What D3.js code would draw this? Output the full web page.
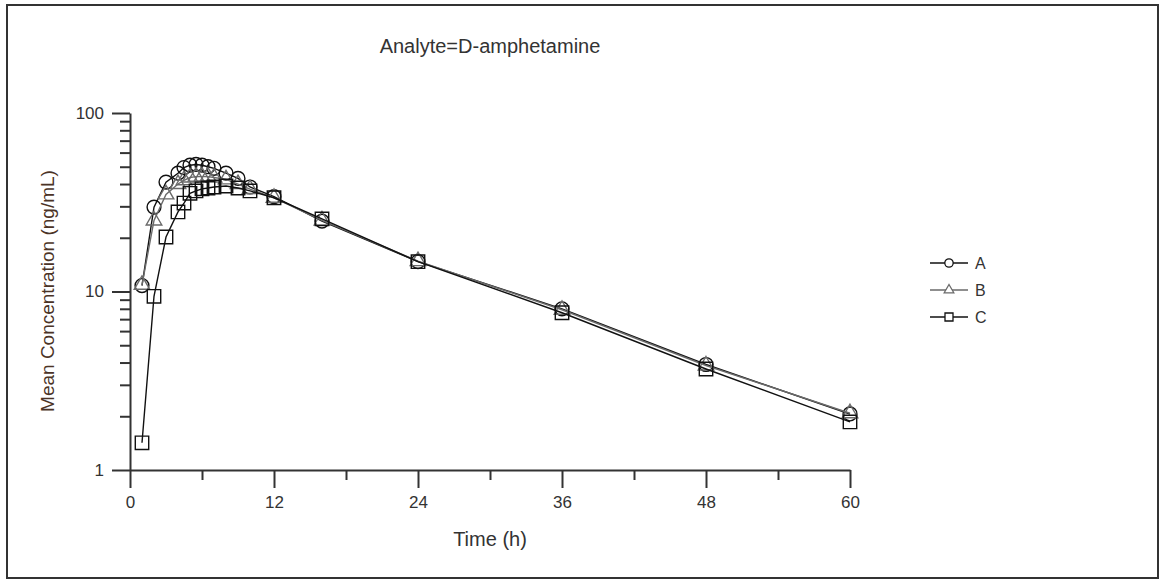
<!DOCTYPE html>
<html>
<head>
<meta charset="utf-8">
<script src="https://cdn.jsdelivr.net/npm/d3@7"></script>
<style>
  html, body { margin: 0; padding: 0; background: #fff; }
  svg text { font-family: "Liberation Sans", Arial, sans-serif; }
</style>
</head>
<body>
<div id="chart"></div>
<script>
// 数据：采样时间（h）与三组平均浓度（ng/mL）
const times = [1, 2, 3, 4, 4.5, 5, 5.5, 6, 6.5, 7, 8, 9, 10, 12, 16, 24, 36, 48, 60];
const seriesA = [10.8, 29.7, 41, 46, 49.5, 51, 51.5, 51, 50, 49, 46, 43, 38.5, 34, 24.8, 14.7, 8.0, 3.9, 2.06];
const seriesB = [10.9, 25, 35, 40, 42, 43.5, 44, 44, 44, 43.5, 42.5, 40, 37.5, 33.5, 25, 14.8, 7.9, 3.85, 2.08];
const seriesC = [1.42, 9.4, 20.2, 27.9, 31.3, 35.5, 36.6, 37.6, 38, 38.5, 39, 38, 36.6, 33.5, 25.5, 14.7, 7.6, 3.68, 1.86];
const seriesNames = ['A', 'B', 'C'];
const xMajorTicks = [0, 12, 24, 36, 48, 60];
const xMinorTicks = [6, 18, 30, 42, 54];
const yMajorTicks = [1, 10, 100];
const yMinorTicks = [2, 3, 4, 5, 6, 7, 8, 9, 20, 30, 40, 50, 60, 70, 80, 90];

const width = 1159;
const height = 580;
const plot = {left: 130, right: 850, top: 113, bottom: 470};

const svg = d3.select('#chart')
    .append('svg')
    .attr('width', width)
    .attr('height', height);

// 外框
svg.append('rect')
    .attr('x', 7).attr('y', 5)
    .attr('width', 1151).attr('height', 573)
    .attr('fill', 'none')
    .attr('stroke', '#333')
    .attr('stroke-width', 2);

const x = d3.scaleLinear().domain([0, 60]).range([plot.left, plot.right]);
const y = d3.scaleLog().domain([1, 100]).range([plot.bottom, plot.top]);

// 标题
svg.append('text')
    .attr('x', 490).attr('y', 53)
    .attr('text-anchor', 'middle')
    .style('font-size', '20px')
    .attr('fill', '#333')
    .text('Analyte=D-amphetamine');

// 坐标轴
const styleAxis = g => {
    g.selectAll('path, line').attr('stroke', '#333').attr('stroke-width', 2);
    g.selectAll('text').attr('fill', '#333').style('font-size', '17px').attr('font-family', null);
};

svg.append('g')
    .attr('transform', `translate(0,${plot.bottom})`)
    .call(d3.axisBottom(x).tickValues(xMinorTicks).tickSize(10).tickFormat(''))
    .call(g => g.select('.domain').remove())
    .call(styleAxis);

svg.append('g')
    .attr('transform', `translate(${plot.left},0)`)
    .call(d3.axisLeft(y).tickValues(yMinorTicks).tickSize(10).tickFormat(''))
    .call(g => g.select('.domain').remove())
    .call(styleAxis);

svg.append('g')
    .attr('transform', `translate(0,${plot.bottom})`)
    .call(d3.axisBottom(x).tickValues(xMajorTicks).tickSize(18).tickSizeOuter(0).tickPadding(8))
    .call(styleAxis);

svg.append('g')
    .attr('transform', `translate(${plot.left},0)`)
    .call(d3.axisLeft(y).tickValues(yMajorTicks).tickSize(18).tickSizeOuter(0).tickPadding(8).tickFormat(d3.format('d')))
    .call(styleAxis);

// 轴标题
svg.append('text')
    .attr('x', 490).attr('y', 546)
    .attr('text-anchor', 'middle')
    .style('font-size', '20px')
    .attr('fill', '#333')
    .text('Time (h)');

svg.append('text')
    .attr('transform', 'translate(54,291) rotate(-90)')
    .attr('text-anchor', 'middle')
    .style('font-size', '19px')
    .attr('fill', '#4b3326')
    .text('Mean Concentration (ng/mL)');

// 系列
const series = [
    {name: seriesNames[0], values: seriesA, color: '#111', shape: 'circle'},
    {name: seriesNames[1], values: seriesB, color: '#6a6a6a', shape: 'triangle'},
    {name: seriesNames[2], values: seriesC, color: '#111', shape: 'square'}
];

const symbolOf = (shape, size) => {
    const type = shape === 'circle' ? d3.symbolCircle : shape === 'triangle' ? d3.symbolTriangle : d3.symbolSquare;
    return d3.symbol().type(type).size(size)();
};
const plotSize = {circle: 150, triangle: 105, square: 180};
const legendSize = {circle: 55, triangle: 40, square: 64};

const line = d3.line()
    .x((d, i) => x(times[i]))
    .y(d => y(d));

series.forEach(s => {
    svg.append('path')
        .datum(s.values)
        .attr('d', line)
        .attr('fill', 'none')
        .attr('stroke', s.color)
        .attr('stroke-width', 1.4);

    svg.append('g')
        .selectAll('path')
        .data(s.values)
        .join('path')
        .attr('transform', (d, i) => `translate(${x(times[i])},${y(d)})`)
        .attr('d', symbolOf(s.shape, plotSize[s.shape]))
        .attr('fill', 'none')
        .attr('stroke', s.color)
        .attr('stroke-width', 1.4);
});

// 图例
const legend = svg.append('g').attr('transform', 'translate(930,263)');
series.forEach((s, i) => {
    const row = legend.append('g').attr('transform', `translate(0,${i * 27})`);
    row.append('line')
        .attr('x1', 0).attr('x2', 38)
        .attr('stroke', s.color)
        .attr('stroke-width', 1.6);
    row.append('path')
        .attr('transform', 'translate(19,0)')
        .attr('d', symbolOf(s.shape, legendSize[s.shape]))
        .attr('fill', '#fff')
        .attr('stroke', s.color)
        .attr('stroke-width', 1.3);
    row.append('text')
        .attr('x', 45).attr('y', 0)
        .attr('dy', '0.36em')
        .style('font-size', '16px')
        .attr('fill', '#333')
        .text(s.name);
});
</script>
</body>
</html>
